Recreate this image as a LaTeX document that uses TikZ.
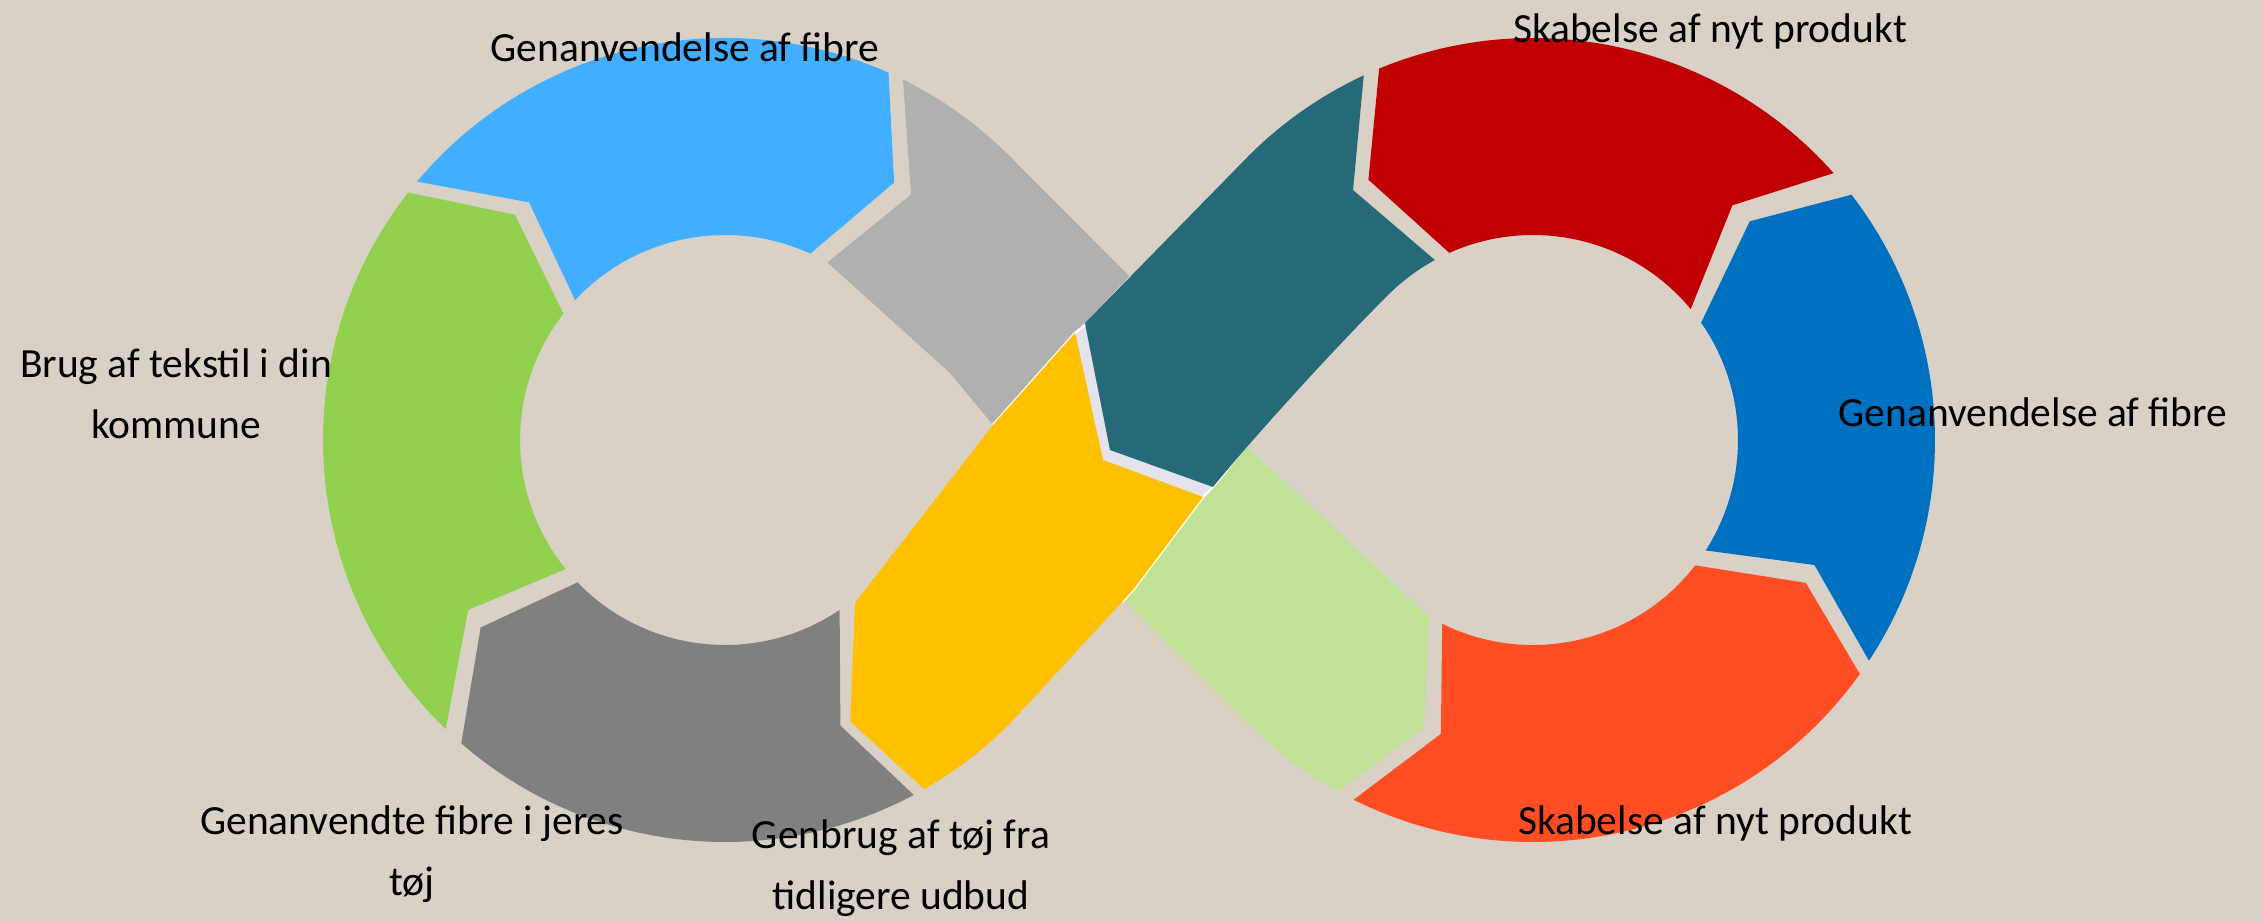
\documentclass[tikz,border=0pt]{standalone}
\usepackage{fontspec}
\setmainfont{Carlito}
\usetikzlibrary{calc}
\definecolor{bg}{RGB}{217,208,198}
\definecolor{blueL}{RGB}{65,174,255}
\definecolor{lgray}{RGB}{176,176,176}
\definecolor{lgreenA}{RGB}{146,208,80}
\definecolor{dgray}{RGB}{128,128,128}
\definecolor{yellowA}{RGB}{255,192,0}
\definecolor{tealA}{RGB}{38,106,122}
\definecolor{redA}{RGB}{192,0,0}
\definecolor{blueR}{RGB}{0,112,192}
\definecolor{orangeA}{RGB}{255,77,36}
\definecolor{paleG}{RGB}{192,226,150}
\definecolor{gapc}{RGB}{228,226,234}
\begin{document}
\begin{tikzpicture}[x=0.01cm,y=0.01cm,
  lbl/.style={font=\fontsize{11.8}{17.4}\selectfont, inner sep=0pt, align=center, text=black},
  halo/.style={white, line width=0.7pt, line join=round}]
\fill[bg] (0,0) rectangle (2262,921);
\useasboundingbox (0,0) rectangle (2262,921);
\coordinate (L) at (725,481);
\coordinate (R) at (1533,481);
% left loop
\fill[dgray] ($(L)+(298:402)$) arc[start angle=298,end angle=229,radius=402] -- ($(L)+(217.5:308)$) -- ($(L)+(224:205)$) arc[start angle=224,end angle=304,radius=205] -- ($(L)+(292:308)$) -- cycle;
\fill[lgreenA] ($(L)+(226:402)$) arc[start angle=226,end angle=142,radius=402] -- ($(L)+(133:308)$) -- ($(L)+(142:205)$) arc[start angle=142,end angle=219,radius=205] -- ($(L)+(213.5:308)$) -- cycle;
\fill[blueL] ($(L)+(140:402)$) arc[start angle=140,end angle=66,radius=402] -- ($(L)+(56.7:308)$) -- ($(L)+(65.4:205)$) arc[start angle=65.4,end angle=137,radius=205] -- ($(L)+(129.5:308)$) -- cycle;
% crossing, lower layer
\fill[lgray] ($(L)+(63.7:402)$) arc[start angle=63.7,end angle=45,radius=402] -- (1160,614) -- (1040,450) -- (993,496) -- (950,548) -- ($(L)+(60:205)$) -- ($(L)+(52.85:308)$) -- cycle;
\fill[paleG] ($(R)+(240.9:402)$) arc[start angle=240.9,end angle=225,radius=402] -- (1098,347) -- (1210,509) -- (1333,394) -- ($(R)+(239.6:205)$) -- ($(R)+(249.25:308)$) -- cycle;
% right loop
\fill[orangeA] ($(R)+(243.5:402)$) arc[start angle=243.5,end angle=324.4,radius=402] -- ($(R)+(332.35:308)$) -- ($(R)+(322.3:205)$) arc[start angle=322.3,end angle=243.7,radius=205] -- ($(R)+(252.6:308)$) -- cycle;
\fill[blueR] ($(R)+(326.7:402)$) arc[start angle=326.7,end angle=397.6,radius=402] -- ($(R)+(405.25:308)$) -- ($(R)+(394.9:205)$) arc[start angle=394.9,end angle=327.4,radius=205] -- ($(R)+(336.05:308)$) -- cycle;
\fill[redA] ($(R)+(41.6:402)$) arc[start angle=41.6,end angle=112.5,radius=402] -- ($(R)+(122.3:308)$) -- ($(R)+(114.1:205)$) arc[start angle=114.1,end angle=39.7,radius=205] -- ($(R)+(49.65:308)$) -- cycle;
% crossing, upper layer
\fill[gapc] (1075,588) -- (1103,461) -- (1203,424) -- (1213,434) -- (1110,471) -- (1085,596) -- cycle;
\draw[halo] (993,496) -- (1075,588) -- (1085,596) -- (1131,644);
\draw[halo] (1262,495) -- (1213,434) -- (1203,424) -- (1133,331) -- (1122,319);
\fill[yellowA] (1075,588) -- (1103,461) -- (1203,424) -- (1133,331) -- ($(L)+(315:402)$) arc[start angle=315,end angle=299.7,radius=402] -- ($(L)+(294:308)$) -- (855,318) -- (993,496) -- cycle;
\fill[tealA] (1085,598) -- ($(R)+(135:402)$) arc[start angle=135,end angle=114.9,radius=402] -- ($(R)+(125.75:308)$) -- ($(R)+(118.6:205)$) arc[start angle=118.6,end angle=135,radius=205] .. controls (1328,566) and (1248,477) .. (1213,434) -- (1110,471) -- cycle;
% labels (multi-line nodes: base = baseline of last line)
\node[lbl, anchor=base] (t1) at (685,859) {Genanvendelse af fibre};
\node[lbl, anchor=base] (t2) at (1710,878) {Skabelse af nyt produkt};
\node[lbl, anchor=base] (t3) at (176,482) {Brug af tekstil i din\\kommune};
\node[lbl, anchor=base] (t4) at (2033,494) {Genanvendelse af fibre};
\node[lbl, anchor=base] (t5) at (412,25) {Genanvendte fibre i jeres\\tøj};
\node[lbl, anchor=base] (t6) at (901,11) {Genbrug af tøj fra\\tidligere udbud};
\node[lbl, anchor=base] (t7) at (1715,86) {Skabelse af nyt produkt};
\end{tikzpicture}
\end{document}
